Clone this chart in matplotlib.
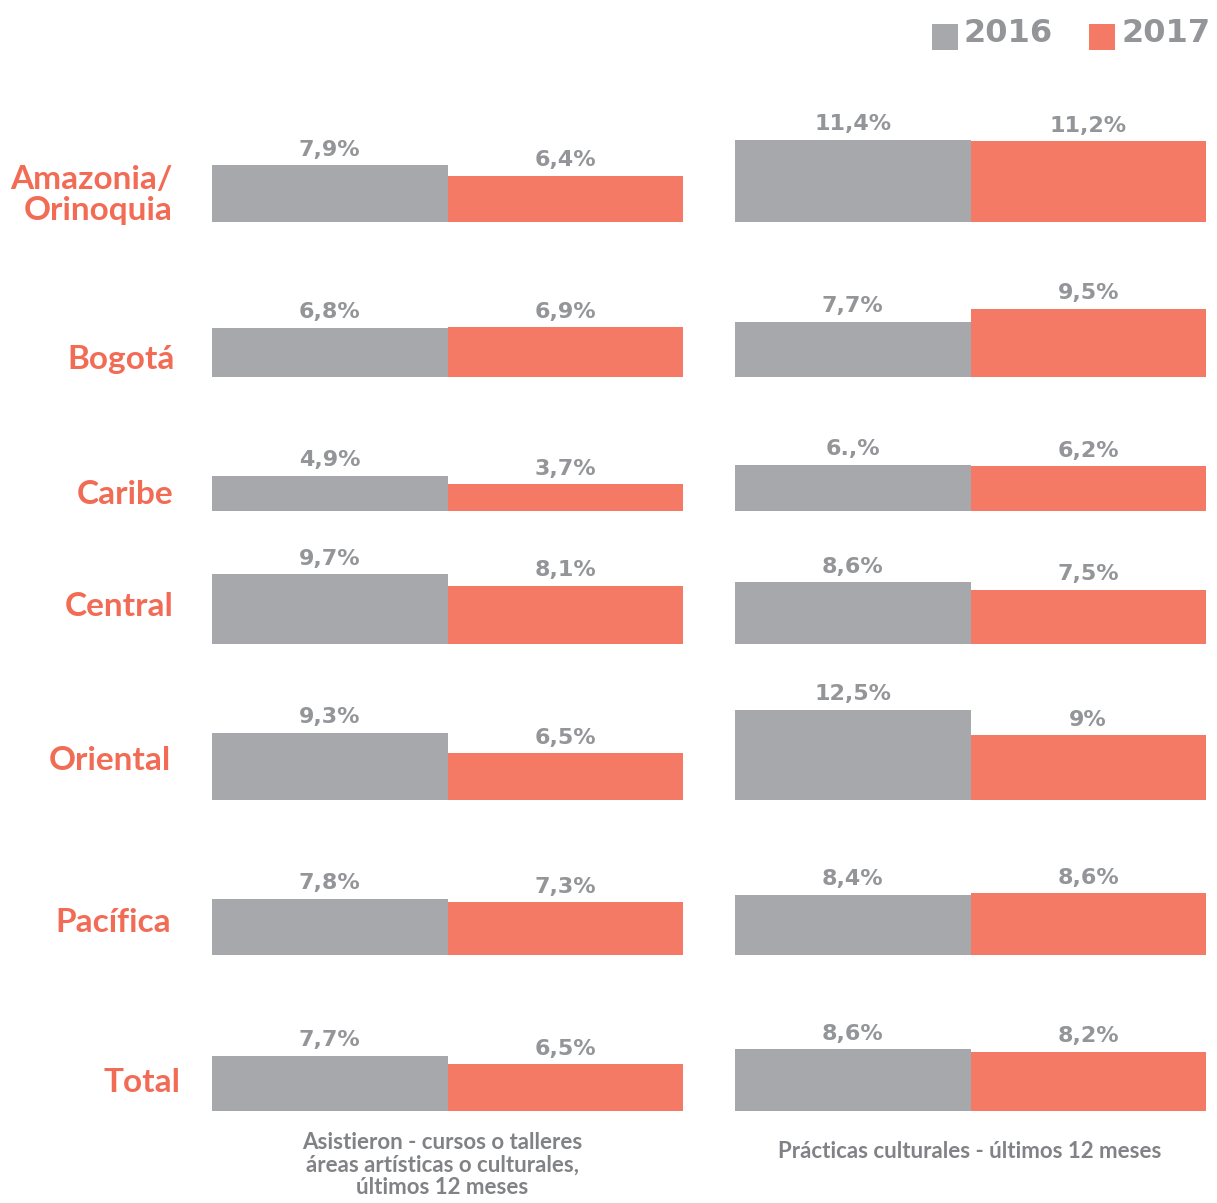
import matplotlib.pyplot as plt
from matplotlib.patches import Rectangle

# ---------------------------------------------------------------------------
# Data
# ---------------------------------------------------------------------------
REGIONS = ["Amazonia/\nOrinoquia", "Bogotá", "Caribe", "Central",
           "Oriental", "Pacífica", "Total"]
YEARS = ["2016", "2017"]

# Asistieron a cursos o talleres (left panel), % of population
CURSOS_2016 = [7.9, 6.8, 4.9, 9.7, 9.3, 7.8, 7.7]
CURSOS_2017 = [6.4, 6.9, 3.7, 8.1, 6.5, 7.3, 6.5]
CURSOS_2016_LBL = ["7,9%", "6,8%", "4,9%", "9,7%", "9,3%", "7,8%", "7,7%"]
CURSOS_2017_LBL = ["6,4%", "6,9%", "3,7%", "8,1%", "6,5%", "7,3%", "6,5%"]

# Prácticas culturales (right panel), % of population
PRACTICAS_2016 = [11.4, 7.7, 6.4, 8.6, 12.5, 8.4, 8.6]
PRACTICAS_2017 = [11.2, 9.5, 6.2, 7.5, 9.0, 8.6, 8.2]
PRACTICAS_2016_LBL = ["11,4%", "7,7%", "6.,%", "8,6%", "12,5%", "8,4%", "8,6%"]
PRACTICAS_2017_LBL = ["11,2%", "9,5%", "6,2%", "7,5%", "9%", "8,6%", "8,2%"]

CAPTIONS = ["Asistieron - cursos o talleres\náreas artísticas o culturales,\núltimos 12 meses",
            "Prácticas culturales - últimos 12 meses"]

# ---------------------------------------------------------------------------
# Style / layout (pixel units on a 1217x1203 canvas)
# ---------------------------------------------------------------------------
W, H = 1217, 1203
GRAY = "#a7a8ac"
SALMON = "#f47a66"
REGION_COLOR = "#f26b55"
LABEL_GRAY = "#939598"
CAPTION_GRAY = "#808285"

NUM_FONT = ["DejaVu Sans"]
GEOM = ["Lato", "DejaVu Sans"]

BASELINES = [222, 377, 511, 644, 800, 955, 1111]   # bar bottoms, px from top
PX_PER_PCT = 7.2
ROW_H = 110                                          # row axes height, px
COLS = [(212, 683), (735, 1206)]                     # panel x spans, px


def fx(px):
    return px / W


def fy(px):
    return 1 - px / H


fig = plt.figure(figsize=(W / 100, H / 100), dpi=100)
fig.patch.set_facecolor("white")


def draw_row(x0, x1, baseline, vals, lbls):
    ax = fig.add_axes([fx(x0), fy(baseline), fx(x1 - x0), ROW_H / H])
    ax.bar([0, 1], vals, width=1, align="edge", color=[GRAY, SALMON],
           linewidth=0)
    ax.set_xlim(0, 2)
    ax.set_ylim(0, ROW_H / PX_PER_PCT)
    for i, (v, t) in enumerate(zip(vals, lbls)):
        ax.annotate(t, (i + 0.5, v), xytext=(0, 4), textcoords="offset points",
                    ha="center", va="bottom", fontsize=16, fontweight="bold",
                    color=LABEL_GRAY, family=NUM_FONT)
    ax.axis("off")


panels = [(CURSOS_2016, CURSOS_2017, CURSOS_2016_LBL, CURSOS_2017_LBL),
          (PRACTICAS_2016, PRACTICAS_2017, PRACTICAS_2016_LBL, PRACTICAS_2017_LBL)]

for (x0, x1), (v16, v17, l16, l17) in zip(COLS, panels):
    for r, base in enumerate(BASELINES):
        draw_row(x0, x1, base, [v16[r], v17[r]], [l16[r], l17[r]])

# region names on the left
REGION_Y = [195, 359, 494, 606, 760, 922, 1083]
REGION_X = [173, 175, 173, 174, 171, 171, 181]
for name, x, y in zip(REGIONS, REGION_X, REGION_Y):
    fig.text(fx(x), fy(y), name, ha="right", va="center", fontsize=24,
             fontweight="bold", color=REGION_COLOR, family=GEOM,
             linespacing=1.05)

# panel captions
fig.text(fx(442), fy(1165), CAPTIONS[0], ha="center", va="center",
         fontsize=16, fontweight="bold", color=CAPTION_GRAY, family=GEOM,
         linespacing=1.1)
fig.text(fx(970), fy(1152), CAPTIONS[1], ha="center", va="center",
         fontsize=16, fontweight="bold", color=CAPTION_GRAY, family=GEOM)

# legend
for sq_x, tx_right, year, col in zip([932, 1089], [1053, 1211], YEARS, [GRAY, SALMON]):
    fig.patches.append(Rectangle((fx(sq_x), fy(50)), fx(26), 26 / H,
                                 transform=fig.transFigure, color=col,
                                 linewidth=0))
    fig.text(fx(tx_right), fy(34), year, ha="right", va="center", fontsize=23,
             fontweight="bold", color=LABEL_GRAY, family=NUM_FONT)

fig.savefig("out.png", dpi=100)
